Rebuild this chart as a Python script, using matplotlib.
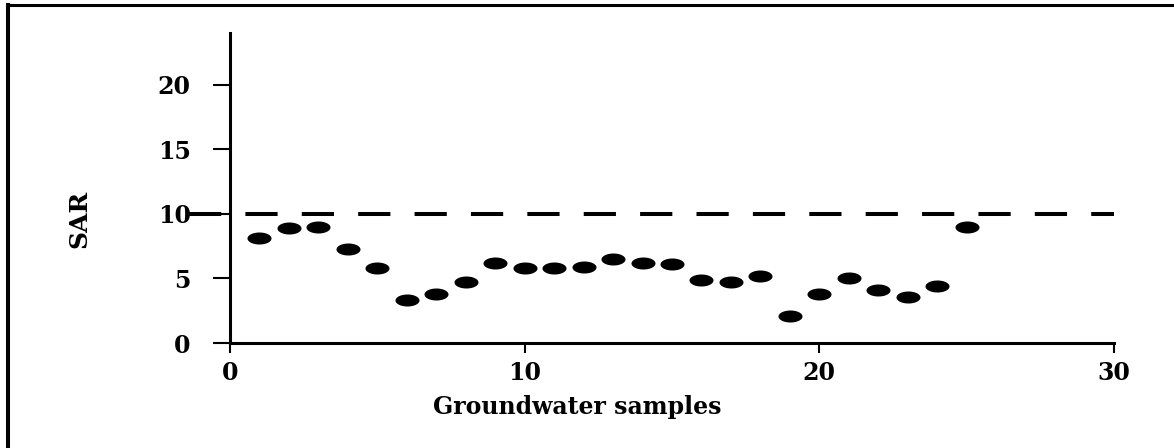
import matplotlib.pyplot as plt
import numpy as np
from matplotlib.path import Path
from matplotlib.lines import Line2D

# data
samples = list(range(1, 26))
sar = [8.1, 8.9, 9.0, 7.3, 5.8, 3.3, 3.8, 4.7, 6.2, 5.8,
       5.8, 5.9, 6.5, 6.2, 6.1, 4.9, 4.7, 5.2, 2.1, 3.8,
       5.0, 4.1, 3.6, 4.4, 9.0]
limite = 10
xticks = [0, 10, 20, 30]
yticks = [0, 5, 10, 15, 20]

plt.rcParams['font.family'] = 'DejaVu Serif'
plt.rcParams['font.weight'] = 'bold'

fig = plt.figure(figsize=(11.74, 4.48), dpi=100)
ax = fig.add_axes([230/1174, 105/448, 884/1174, 310/448])

# marcador eliptico (imagem original esticada na horizontal)
t = np.linspace(0, 2*np.pi, 60)
elipse = Path(np.column_stack([np.cos(t), 0.5*np.sin(t)]), closed=True)

ax.plot(samples, sar, linestyle='none', marker=elipse, markersize=17.3,
        color='black', markeredgewidth=0)

linha, = ax.plot([-1.4, 30], [limite, limite], color='black', lw=2.9,
                 clip_on=False)
linha.set_dashes((8, 6))

ax.set_xlim(0, 30)
ax.set_ylim(0, 24)
ax.set_xticks(xticks)
ax.set_yticks(yticks)

for lado in ['top', 'right']:
    ax.spines[lado].set_visible(False)
for lado in ['left', 'bottom']:
    ax.spines[lado].set_linewidth(2.2)

ax.tick_params(axis='y', direction='out', length=12.2, width=1.5, pad=16,
               labelsize=17)
ax.tick_params(axis='x', direction='out', length=7.2, width=1.5, pad=6,
               labelsize=17)

ax.set_xlabel("Groundwater samples", fontsize=17, fontweight='bold')
ax.xaxis.set_label_coords(0.393, -0.205)
ax.xaxis.label.set_verticalalignment('center')

ax.set_ylabel("SAR", fontsize=18, fontweight='bold')
ax.yaxis.set_label_coords(-0.170, 0.40)
ax.yaxis.label.set_verticalalignment('center')

# moldura (so topo e esquerda aparecem no recorte)
fig.add_artist(Line2D([8/1174, 8/1174], [0, 1 - 5/448], color='black',
                      lw=2.9, transform=fig.transFigure))
fig.add_artist(Line2D([8/1174, 1], [1 - 5/448, 1 - 5/448], color='black',
                      lw=2.2, transform=fig.transFigure))

fig.savefig("out.png", dpi=100)
